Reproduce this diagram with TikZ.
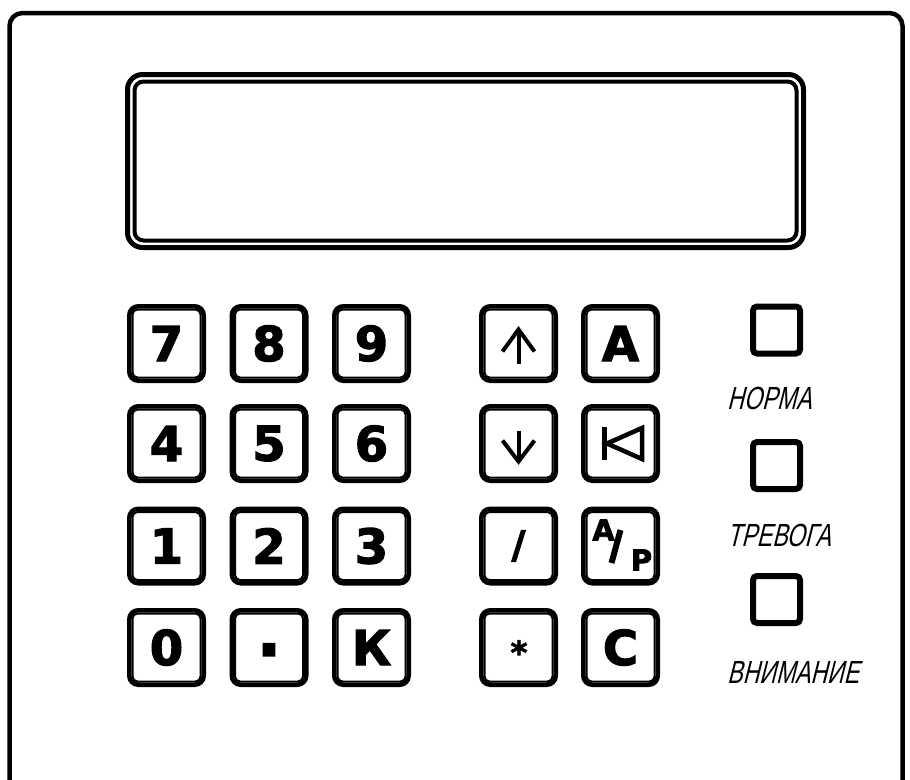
\documentclass[tikz,border=0pt]{standalone}
\usepackage{fontspec}
\usepackage{tikz}

\newfontfamily\keyfont[BoldFeatures={FakeBold=2.5}]{DejaVu Sans}
\newfontfamily\gostfont[FakeStretch=0.72,FakeSlant=0.25]{Liberation Sans}

\tikzset{
  panel/.style={line width=4.5pt, rounded corners=13pt},
  screen/.style={line width=5pt, rounded corners=15pt},
  screenrim/.style={line width=4pt, rounded corners=9pt},
  keybox/.style={draw, line width=4.5pt, rounded corners=9pt,
    minimum width=74.5pt, minimum height=74.5pt, inner sep=0pt,
    font=\keyfont\bfseries\fontsize{48}{48}\selectfont},
  keyrim/.style={line width=2pt, rounded corners=5pt},
  glyph/.style={line width=4pt},
  lamp/.style={draw, line width=6pt, rounded corners=4pt,
    minimum size=47pt, inner sep=0pt},
  lamplabel/.style={anchor=west, inner sep=0pt,
    font=\gostfont\fontsize{32}{32}\selectfont},
}

\begin{document}
\begin{tikzpicture}[x=1pt, y=-1pt]
\useasboundingbox (0,0) rectangle (910,779);

% Draw front panel.
\draw[panel] (9.5,13) rectangle (902.5,830);

% Draw display.
\draw[screen] (127.5,74.5) rectangle (803.5,247.5);
\draw[screenrim] (134.5,81.5) rectangle (796.5,240.5);

% Draw digit keys.
\foreach \name/\x/\y/\txt in {
    k7/166.5/343.5/7, k8/269/343.5/8, k9/371.5/343.5/9,
    k4/166.5/443.5/4, k5/269/443.5/5, k6/371.5/443.5/6,
    k1/166.5/546/1,   k2/269/546/2,   k3/371.5/546/3,
    k0/166.5/647.5/0, kdot/269/647.5/{}, kK/371.5/647.5/К}
  \node[keybox] (\name) at (\x,\y) {\txt};
\node[inner sep=0pt, anchor=base, font=\keyfont\bfseries\fontsize{64}{64}\selectfont] (dot) at (269,672) {·};

% Draw function keys.
\node[keybox] (up) at (518.5,343.5) {};
\node[keybox] (kA) at (620.5,343.5) {А};
\node[keybox] (down) at (518.5,443.5) {};
\node[keybox] (back) at (620.5,443.5) {};
\node[keybox, font=\keyfont\bfseries\fontsize{38}{38}\selectfont] (slash) at (518.5,546) {/};
\node[keybox] (mode) at (620.5,546) {};
\node[keybox] (star) at (518.5,647.5) {};
\node[inner sep=0pt, anchor=base, font=\keyfont\bfseries\fontsize{32}{32}\selectfont] (ast) at (519,664) {*};
\node[keybox] (kC) at (620.5,647.5) {С};

% Inner rim of every key.
\foreach \k in {k7,k8,k9,k4,k5,k6,k1,k2,k3,k0,kdot,kK,up,kA,down,back,slash,mode,star,kC}
  \draw[keyrim] ([shift={(5.5pt,5.5pt)}]\k.south west)
    rectangle ([shift={(-5.5pt,-5.5pt)}]\k.north east);

% Key glyphs.
\begin{scope}[shift={(up.center)}]
  \draw[glyph] (0,20) -- (0,-14);
  \draw[glyph, line join=miter] (-16,8) -- (0,-14) -- (16,8);
\end{scope}
\begin{scope}[shift={(down.center)}]
  \draw[glyph] (0,-13) -- (0,18);
  \draw[glyph, line join=miter] (-16,-3) -- (0,18) -- (16,-3);
\end{scope}
\begin{scope}[shift={(back.center)}]
  \draw[line width=4.5pt] (-16,-16.5) -- (-16,16.5);
  \draw[line width=4.5pt, line join=miter] (-13.5,0) -- (21.5,-15.5) -- (21.5,15.5) -- cycle;
\end{scope}
\node[inner sep=0pt, font=\keyfont\bfseries\fontsize{29}{29}\selectfont] (modeA) at ([shift={(-17pt,16pt)}]mode.center) {А};
\node[inner sep=0pt, font=\keyfont\bfseries\fontsize{29}{29}\selectfont] (modeP) at ([shift={(21pt,-14pt)}]mode.center) {Р};
\draw[line width=6pt] ([shift={(0pt,16pt)}]mode.center) -- ([shift={(-9pt,-17pt)}]mode.center);

% Draw lamps and their labels.
\node[lamp] (norm) at (776.5,330) {};
\node[lamp] (alarm) at (776.5,465.5) {};
\node[lamp] (warn) at (776.5,599.5) {};
\node[lamplabel] (normtxt) at (727,398) {НОРМА};
\node[lamplabel] (alarmtxt) at (727,535) {ТРЕВОГА};
\node[lamplabel] (warntxt) at (727,672) {ВНИМАНИЕ};

\end{tikzpicture}
\end{document}
